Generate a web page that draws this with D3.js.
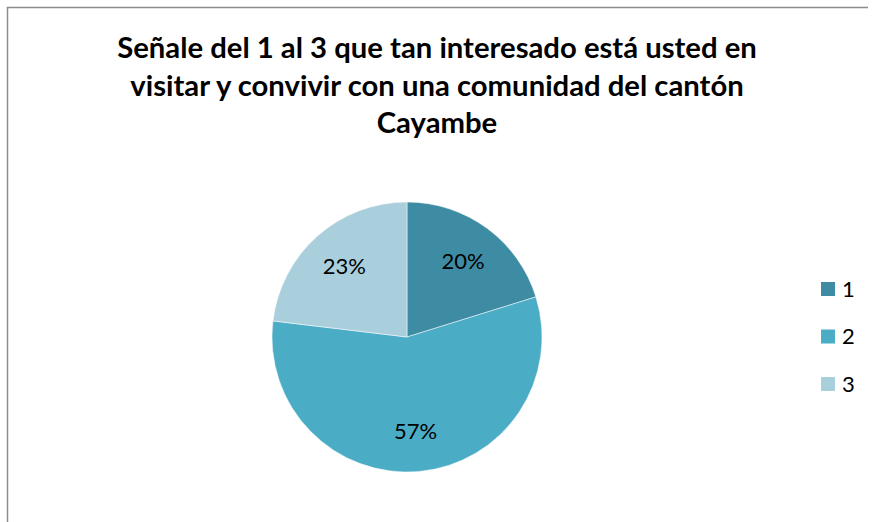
<!DOCTYPE html>
<html>
<head>
<meta charset="utf-8">
<script src="https://cdn.jsdelivr.net/npm/d3@7"></script>
<style>
    body { margin: 0; background: #fff; }
    svg { display: block; font-family: Lato, 'Open Sans', sans-serif; }
</style>
</head>
<body>
<svg width="872" height="522"></svg>
<script>
    var categories = ['1', '2', '3'];
    var values = [20.2, 56.7, 23.1];
    var colors = ['#3e8ca4', '#4bacc6', '#a9cedc'];
    var titleLines = ['Señale del 1 al 3 que tan interesado está usted en',
        'visitar y convivir con una comunidad del cantón',
        'Cayambe'];

    var svg = d3.select('svg'),
        width = +svg.attr('width'),
        height = +svg.attr('height');

    // frame
    svg.append('path')
        .attr('d', 'M7.5,' + height + 'V7.5H868')
        .attr('fill', 'none')
        .attr('stroke', '#8c8c8c')
        .attr('stroke-width', 1.5);

    // title
    var title = svg.append('g').selectAll('text')
        .data(titleLines)
        .enter().append('text')
        .attr('x', 437)
        .attr('y', function(d, i) { return 58 + i * 37.5; })
        .attr('text-anchor', 'middle')
        .attr('font-size', 24)
        .attr('font-weight', 'bold')
        .attr('fill', '#000')
        .text(function(d) { return d; });

    // fit first line to ~640px like the original
    var w0 = title.node().getComputedTextLength();
    title.attr('font-size', 24 * 640 / w0);

    var cx = 407, cy = 337, r = 135;
    var data = categories.map(function(c, i) { return { cat: c, value: values[i] }; });
    var total = d3.sum(values);

    var pie = d3.pie().sort(null).value(function(d) { return d.value; });
    var arc = d3.arc().innerRadius(0).outerRadius(r);
    var labelArc = d3.arc().innerRadius(r * 0.7).outerRadius(r * 0.7);

    var g = svg.append('g').attr('transform', 'translate(' + cx + ',' + cy + ')');
    var arcs = pie(data);

    g.selectAll('path')
        .data(arcs)
        .enter().append('path')
        .attr('d', arc)
        .attr('fill', function(d, i) { return colors[i]; })
        .attr('stroke', '#fff')
        .attr('stroke-width', 0.5);

    g.selectAll('text')
        .data(arcs)
        .enter().append('text')
        .attr('transform', function(d) { return 'translate(' + labelArc.centroid(d) + ')'; })
        .attr('text-anchor', 'middle')
        .attr('dy', '0.36em')
        .attr('font-size', 22)
        .attr('fill', '#000')
        .text(function(d) { return Math.round(d.data.value / total * 100) + '%'; });

    // legend
    var legend = svg.append('g').selectAll('g')
        .data(categories)
        .enter().append('g')
        .attr('transform', function(d, i) { return 'translate(821,' + (282 + i * 47.5) + ')'; });

    legend.append('rect')
        .attr('width', 14)
        .attr('height', 14)
        .attr('fill', function(d, i) { return colors[i]; });

    legend.append('text')
        .attr('x', 21)
        .attr('y', 7)
        .attr('dy', '0.36em')
        .attr('font-size', 22)
        .attr('fill', '#000')
        .text(function(d) { return d; });
</script>
</body>
</html>
